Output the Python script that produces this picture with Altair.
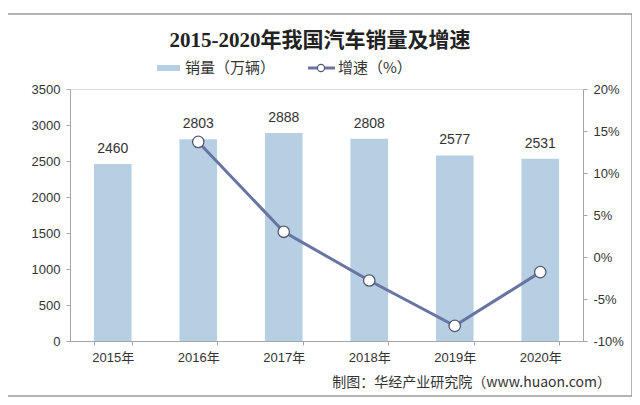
import altair as alt
import pandas as pd

years = ["2015年", "2016年", "2017年", "2018年", "2019年", "2020年"]
sales = [2460, 2803, 2888, 2808, 2577, 2531]
growth_years = ["2016年", "2017年", "2018年", "2019年", "2020年"]
growth = [13.7, 3.0, -2.8, -8.2, -1.8]

title_text = "2015-2020年我国汽车销量及增速"
legend_bar = "销量（万辆）"
legend_line = "增速（%）"
source_text = "制图：华经产业研究院（www.huaon.com）"

bar_df = pd.DataFrame({"year": years, "sales": sales})
line_df = pd.DataFrame({"year": growth_years, "growth": growth})
one = pd.DataFrame({"k": [0]})

W, H = 513, 252
BAR = "#b6cfe3"
LINE = "#6874a3"
AX = "#a6a6a6"
TXT = "#333333"
SANS = "Liberation Sans, Noto Sans CJK SC"
CJK = "Noto Sans CJK SC"

x = alt.X("year:N", sort=years, title=None,
          scale=alt.Scale(paddingInner=0.56, paddingOuter=0.28),
          axis=alt.Axis(labelAngle=0, domainColor=AX, tickColor=AX, tickBand="extent",
                        tickSize=4, labelPadding=6, labelFont=SANS, labelFontSize=13,
                        labelColor=TXT))

y_left = alt.Y("sales:Q", title=None,
               scale=alt.Scale(domain=[0, 3500], nice=False),
               axis=alt.Axis(values=list(range(0, 3501, 500)), format="d", grid=False,
                             domainColor=AX, tickColor=AX, tickSize=4, labelPadding=6,
                             labelFont=SANS, labelFontSize=13, labelColor=TXT))

bars = alt.Chart(bar_df).mark_bar(color=BAR).encode(x=x, y=y_left)
bar_labels = alt.Chart(bar_df).mark_text(dy=-8, baseline="bottom", font=SANS, fontSize=14,
                                         color=TXT).encode(x=x, y=y_left, text="sales:Q")
left = alt.layer(bars, bar_labels)

y_right = alt.Y("growth:Q", title=None,
                scale=alt.Scale(domain=[-10, 20], nice=False),
                axis=alt.Axis(orient="right", values=list(range(-10, 21, 5)), grid=False,
                              domainColor=AX, tickColor=AX, tickSize=4, labelPadding=6,
                              labelFont=SANS, labelFontSize=13, labelColor=TXT,
                              labelExpr="datum.value + '%'"))

line = alt.Chart(line_df).mark_line(color=LINE, strokeWidth=3).encode(
    x=alt.X("year:N", sort=years), y=y_right)
pts = alt.Chart(line_df).mark_point(filled=True, fill="white", stroke="#555a70",
                                    strokeWidth=1.3, size=130, opacity=1).encode(
    x=alt.X("year:N", sort=years), y=y_right)
right = alt.layer(line, pts)

# frame around the whole chart
frame = alt.Chart(one).mark_rect(fill=None, stroke="#9a9a9a", strokeWidth=1.5).encode(
    x=alt.value(-63), x2=alt.value(562), y=alt.value(-75), y2=alt.value(307))

title = alt.Chart(one).mark_text(font="Liberation Serif, Noto Sans CJK SC", fontSize=21,
                                 fontWeight="bold", color="#222222", baseline="middle").encode(
    x=alt.value(250), y=alt.value(-48), text=alt.value(title_text))

leg_bar = alt.Chart(one).mark_rect(color=BAR).encode(
    x=alt.value(87), x2=alt.value(110), y=alt.value(-24), y2=alt.value(-18))
leg_bar_t = alt.Chart(one).mark_text(font=CJK, fontSize=15, color=TXT, align="left",
                                     baseline="middle").encode(
    x=alt.value(115), y=alt.value(-21), text=alt.value(legend_bar))
leg_line = alt.Chart(one).mark_rule(color=LINE, strokeWidth=3).encode(
    x=alt.value(238), x2=alt.value(265), y=alt.value(-21))
leg_pt = alt.Chart(one).mark_point(filled=True, fill="white", stroke="#555a70",
                                   strokeWidth=1.2, size=50, opacity=1).encode(
    x=alt.value(251), y=alt.value(-21))
leg_line_t = alt.Chart(one).mark_text(font=CJK, fontSize=15, color=TXT, align="left",
                                      baseline="middle").encode(
    x=alt.value(268), y=alt.value(-21), text=alt.value(legend_line))

source = alt.Chart(one).mark_text(font=CJK, fontSize=14, color=TXT, align="right",
                                  baseline="middle").encode(
    x=alt.value(541), y=alt.value(294), text=alt.value(source_text))

chart = alt.layer(
    left, right, frame, title, leg_bar, leg_bar_t, leg_line, leg_pt, leg_line_t, source
).resolve_scale(y="independent").properties(
    width=W, height=H,
    autosize=alt.AutoSizeParams(type="none"),
    padding={"left": 62, "top": 81, "right": 49, "bottom": 56},
).configure_view(stroke=None).configure(background="white")

chart.save("out.html", embed_options={"renderer": "svg", "actions": False})
